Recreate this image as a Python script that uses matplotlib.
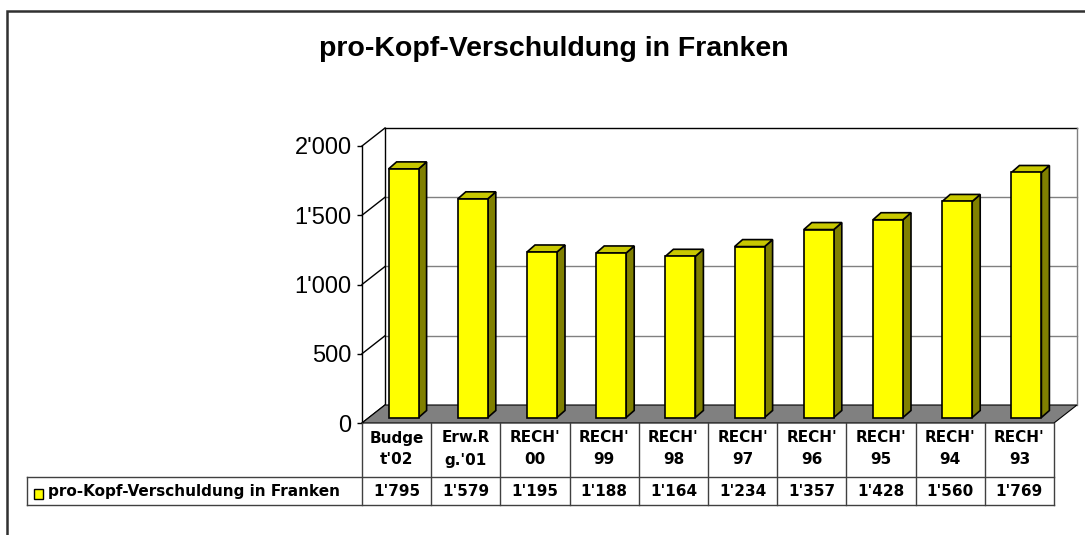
import matplotlib
matplotlib.use("Agg")
import matplotlib.pyplot as plt
from matplotlib.patches import Polygon, Rectangle
from matplotlib.lines import Line2D

# ---------------- data ----------------
title = "pro-Kopf-Verschuldung in Franken"
series_name = "pro-Kopf-Verschuldung in Franken"
categories = ["Budge\nt'02", "Erw.R\ng.'01", "RECH'\n00", "RECH'\n99", "RECH'\n98",
              "RECH'\n97", "RECH'\n96", "RECH'\n95", "RECH'\n94", "RECH'\n93"]
values = [1795, 1579, 1195, 1188, 1164, 1234, 1357, 1428, 1560, 1769]
yticks = [0, 500, 1000, 1500, 2000]
ytick_labels = ["0", "500", "1'000", "1'500", "2'000"]

def fmt(v):
    return f"{v:,}".replace(",", "'")

# ---------------- figure ----------------
W, H, DPI = 1085, 535, 100
fig = plt.figure(figsize=(W / DPI, H / DPI), dpi=DPI)
fig.patch.set_facecolor("white")

def fx(px):
    return px / W

def fy(py):
    return (H - py) / H

# outer border (left + top, continuing off the canvas)
fig.add_artist(Rectangle((fx(7), fy(560)), fx(1200), fy(11) - fy(560), transform=fig.transFigure,
                         fill=False, edgecolor="#303030", linewidth=1.8))

fig.text(fx(554), fy(49), title, ha="center", va="center", fontsize=20.5,
         fontweight="bold", family="Liberation Sans", color="black")

# front plane axes
X0, X1, Y0, Y1 = 362, 1054, 423, 146
ax = fig.add_axes([fx(X0), fy(Y0), fx(X1) - fx(X0), fy(Y1) - fy(Y0)])
n = len(categories)
ax.set_xlim(-0.5, n - 0.5)
ax.set_ylim(0, 2000)
ax.patch.set_visible(False)
for s in ["top", "right", "bottom"]:
    ax.spines[s].set_visible(False)
ax.spines["left"].set_color("black")
ax.spines["left"].set_linewidth(1.0)
ax.set_xticks([])
ax.set_yticks(yticks)
ax.set_yticklabels(ytick_labels, fontsize=17, family="Liberation Sans")
ax.tick_params(axis="y", length=3.5, width=1.0, pad=4.0, color="black")

px_per_x = (X1 - X0) / n
px_per_y = (Y0 - Y1) / 2000.0

def dx(px):
    return px / px_per_x

def dy(py):
    return py / px_per_y

# depth of floor / walls
DX, DY = dx(23), dy(18)
xl, xr = -0.5, n - 0.5

# back wall
ax.add_patch(Polygon([(xl + DX, DY), (xr + DX, DY), (xr + DX, 2000 + DY), (xl + DX, 2000 + DY)],
                     closed=True, facecolor="white", edgecolor="none", clip_on=False, zorder=1))
for t in yticks[1:-1]:
    ax.add_line(Line2D([xl + DX, xr + DX], [t + DY, t + DY], color="#808080", lw=1.0,
                       clip_on=False, zorder=2))
ax.add_line(Line2D([xl + DX, xr + DX], [2000 + DY, 2000 + DY], color="black", lw=1.0, clip_on=False, zorder=2))
ax.add_line(Line2D([xr + DX, xr + DX], [DY, 2000 + DY], color="#808080", lw=1.0, clip_on=False, zorder=2))
ax.add_line(Line2D([xl + DX, xl + DX], [DY, 2000 + DY], color="black", lw=1.0, clip_on=False, zorder=2))
# side-wall diagonals
for t in yticks:
    ax.add_line(Line2D([xl, xl + DX], [t, t + DY], color="black", lw=1.0, clip_on=False, zorder=2))

# floor
ax.add_patch(Polygon([(xl, 0), (xr, 0), (xr + DX, DY), (xl + DX, DY)], closed=True,
                     facecolor="#808080", edgecolor="black", lw=0.8, clip_on=False, zorder=3))

# bars
OX, OY = dx(7), dy(5.5)
BW = dx(30)
BDX, BDY = dx(8), dy(7)
xs = [i + OX for i in range(n)]
ax.bar(xs, values, width=BW, bottom=OY, color="#FFFF00", edgecolor="black", linewidth=1.2,
       clip_on=False, zorder=5)
for x, v in zip(xs, values):
    l, r = x - BW / 2, x + BW / 2
    top = OY + v
    ax.add_patch(Polygon([(r, OY), (r + BDX, OY + BDY), (r + BDX, top + BDY), (r, top)], closed=True,
                         facecolor="#808000", edgecolor="black", lw=1.2, clip_on=False, zorder=4))
    ax.add_patch(Polygon([(l, top), (r, top), (r + BDX, top + BDY), (l + BDX, top + BDY)], closed=True,
                         facecolor="#C8C800", edgecolor="black", lw=1.2, clip_on=False, zorder=4))

# ---------------- data table ----------------
T0, T1, T2 = 423, 477, 505   # header top, row line, bottom (pixels)
tax = fig.add_axes([fx(X0), fy(T2), fx(X1) - fx(X0), fy(T0) - fy(T2)])
tax.set_xlim(-0.5, n - 0.5)
tax.set_ylim(T2, T0)  # pixel-like y (inverted)
tax.axis("off")
LEFT = -0.5 - (X0 - 27) / px_per_x
lc = "#404040"
tfont = dict(family="DejaVu Sans", fontweight="bold", fontsize=11, color="black")
for i in range(n + 1):
    tax.add_line(Line2D([i - 0.5, i - 0.5], [T0, T2], color=lc, lw=1.0, clip_on=False))
tax.add_line(Line2D([LEFT, n - 0.5], [T1, T1], color=lc, lw=1.0, clip_on=False))
tax.add_line(Line2D([LEFT, n - 0.5], [T2, T2], color=lc, lw=1.0, clip_on=False))
tax.add_line(Line2D([LEFT, LEFT], [T1, T2], color=lc, lw=1.0, clip_on=False))
for i, (c, v) in enumerate(zip(categories, values)):
    l1, l2 = c.split("\n")
    tax.text(i, 438, l1, ha="center", va="center", clip_on=False, **tfont)
    tax.text(i, 460, l2, ha="center", va="center", clip_on=False, **tfont)
    tax.text(i, 491.5, fmt(v), ha="center", va="center", clip_on=False, **tfont)
# legend key + label
tax.add_patch(Rectangle((-0.5 - (X0 - 33.5) / px_per_x, 499), 9.5 / px_per_x, -10,
                        facecolor="#FFFF00", edgecolor="black", lw=1.0, clip_on=False))
tax.text(-0.5 - (X0 - 48) / px_per_x, 491.5, series_name, ha="left", va="center",
         clip_on=False, **tfont)

fig.savefig("out.png", dpi=DPI)
